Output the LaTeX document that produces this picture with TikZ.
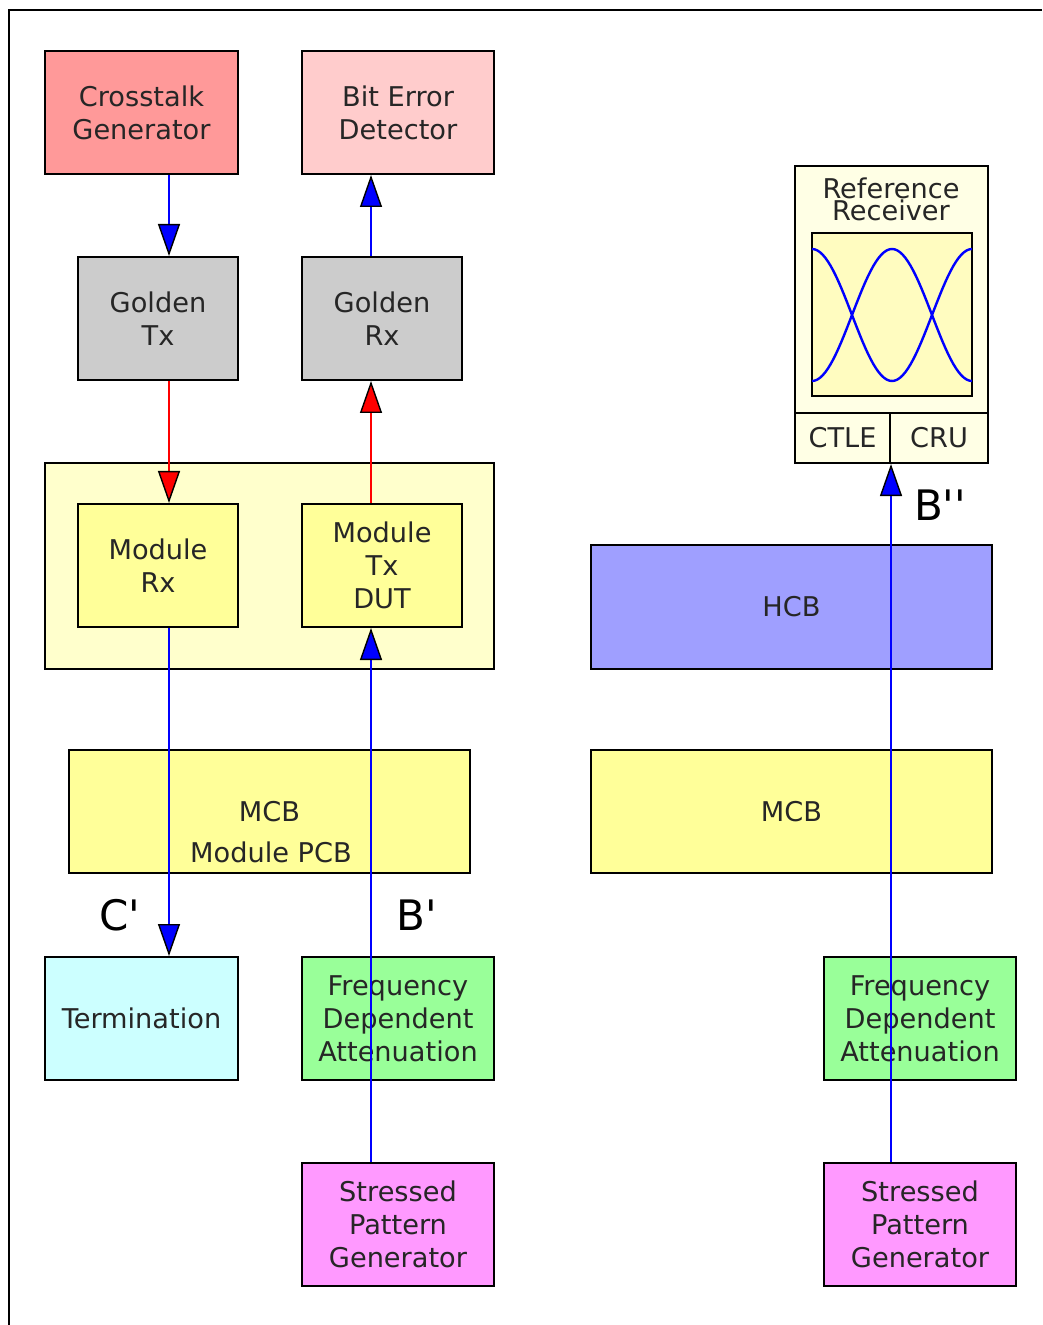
\documentclass[tikz,border=0pt]{standalone}
\usepackage{fontspec}
\setmainfont{DejaVu Sans}
\usetikzlibrary{arrows.meta}

\definecolor{xtalkfill}{HTML}{FF9999}
\definecolor{bedfill}{HTML}{FFCCCC}
\definecolor{goldfill}{HTML}{CCCCCC}
\definecolor{groupfill}{HTML}{FFFFCC}
\definecolor{modfill}{HTML}{FFFF99}
\definecolor{termfill}{HTML}{CCFFFF}
\definecolor{fdafill}{HTML}{99FF99}
\definecolor{spgfill}{HTML}{FF99FF}
\definecolor{hcbfill}{HTML}{9F9FFF}
\definecolor{rxfill}{HTML}{FFFFE5}
\definecolor{eyefill}{HTML}{FFFCC0}
\definecolor{flowblue}{HTML}{0000FF}
\definecolor{flowred}{HTML}{FF0000}

\begin{document}
\begin{tikzpicture}[
		x=0.5pt, y=-0.5pt,
		line width=1pt,
		every node/.style={font=\fontsize{13.6}{16.5}\selectfont, text=black!85},
		box/.style={draw, line width=1pt, inner sep=0pt, align=center, minimum height=61.5pt},
		wide box/.style={box, minimum width=96.5pt},
		narrow box/.style={box, minimum width=80pt},
		pcb box/.style={box, minimum width=200.5pt},
		cell/.style={draw, line width=1pt, inner sep=0pt, minimum height=25pt, fill=rxfill},
		flow/.style={draw=#1, line width=1pt,
			-{Triangle[length=16pt, width=11pt, color=black, fill=#1, line width=0.7pt]}},
		port label/.style={font=\fontsize{21}{24}\selectfont, text=black},
		eye/.style={flowblue, line width=1.2pt}
		]
	
	\useasboundingbox (0,0) rectangle (1042,1325);
	
	% Frame
	\draw (9,1325) -- (9,10) -- (1042,10);
	
	% Lanes of the connectors
	\coordinate (laneA) at (169,0);
	\coordinate (laneB) at (371,0);
	\coordinate (laneC) at (891,0);
	
	% Test equipment
	\node[wide box, fill=xtalkfill] (xtalk) at (141.5,112.5) {Crosstalk\\Generator};
	\node[wide box, fill=bedfill, minimum width=96pt] (bed) at (398,112.5) {Bit Error\\Detector};
	\node[narrow box, fill=goldfill] (gtx) at (158,318.5) {Golden\\Tx};
	\node[narrow box, fill=goldfill] (grx) at (382,318.5) {Golden\\Rx};
	
	% Module
	\node[box, fill=groupfill, minimum width=224.5pt, minimum height=103pt] (module) at (269.5,566) {};
	\node[narrow box, fill=modfill] (mrx) at (158,565.5) {Module\\Rx};
	\node[narrow box, fill=modfill] (mtx) at (382,565.5) {Module\\Tx\\DUT};
	
	% Boards
	\node[pcb box, fill=modfill] (mcbl) at (269.5,811.5) {MCB};
	\node (pcbname) at (271,852) {Module PCB};
	\node[pcb box, fill=hcbfill, minimum height=62pt] (hcb) at (791.5,607) {HCB};
	\node[pcb box, fill=modfill] (mcbr) at (791.5,811.5) {MCB};
	
	% Stimulus and termination
	\node[wide box, fill=termfill] (term) at (141.5,1018.5) {Termination};
	\node[wide box, fill=fdafill, minimum width=96pt] (fdal) at (398,1018.5) {Frequency\\Dependent\\Attenuation};
	\node[wide box, fill=spgfill, minimum width=96pt] (spgl) at (398,1224.5) {Stressed\\Pattern\\Generator};
	\node[wide box, fill=fdafill, minimum width=96pt] (fdar) at (920,1018.5) {Frequency\\Dependent\\Attenuation};
	\node[wide box, fill=spgfill, minimum width=96pt] (spgr) at (920,1224.5) {Stressed\\Pattern\\Generator};
	
	% Reference receiver
	\node[box, fill=rxfill, minimum width=96.5pt, minimum height=148.5pt] (refrx) at (891.5,314.5) {};
	\node[font=\fontsize{13.6}{11}\selectfont, align=center] (refttl) at (891,199.5) {Reference\\Receiver};
	\node[box, fill=eyefill, minimum width=80pt, minimum height=81.5pt] (eyebox) at (892,314.5) {};
	\draw[eye] plot[domain=812:972, samples=61] (\x, {315-66*cos(2.25*(\x-812))});
	\draw[eye] plot[domain=812:972, samples=61] (\x, {315+66*cos(2.25*(\x-812))});
	\node[cell, minimum width=47.5pt] (ctle) at (842.5,438) {CTLE};
	\node[cell, minimum width=49pt] (cru) at (939,438) {CRU};
	
	% Connectors
	\draw[flow=flowblue] (xtalk.south -| laneA) -- (gtx.north -| laneA);
	\draw[flow=flowblue] (grx.north -| laneB) -- (bed.south -| laneB);
	\draw[flow=flowred] (gtx.south -| laneA) -- (mrx.north -| laneA);
	\draw[flow=flowred] (mtx.north -| laneB) -- (grx.south -| laneB);
	\draw[flow=flowblue] (mrx.south -| laneA) -- (term.north -| laneA);
	\draw[flow=flowblue] (spgl.north -| laneB) -- (mtx.south -| laneB);
	\draw[flow=flowblue] (spgr.north -| laneC) -- (refrx.south -| laneC);
	
	% Test points
	\node[port label] (cprime) at (120,915) {C\textquotesingle};
	\node[port label] (bprime) at (417,915) {B\textquotesingle};
	\node[port label] (bsecond) at (940,505) {B\textquotesingle\textquotesingle};
	
\end{tikzpicture}
\end{document}
